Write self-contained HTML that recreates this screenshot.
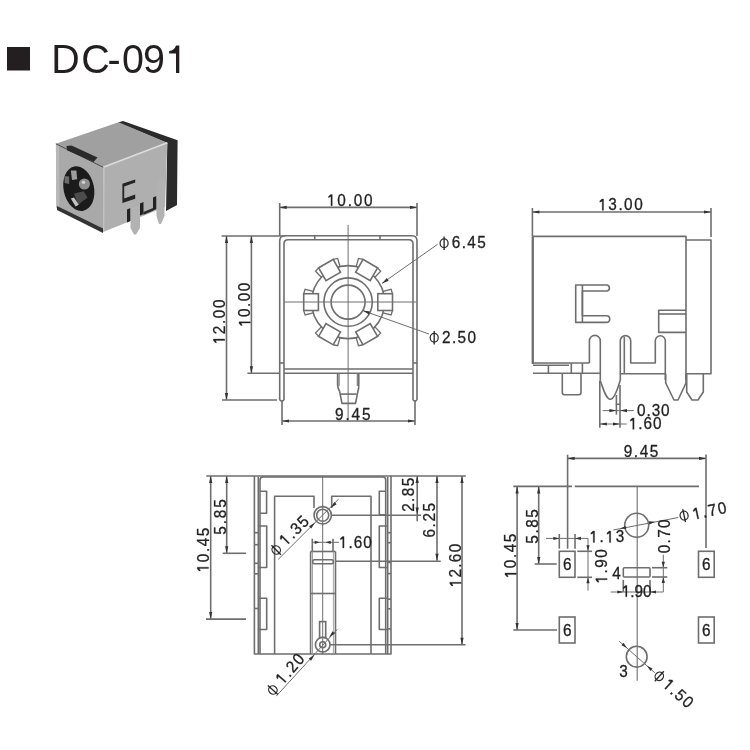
<!DOCTYPE html>
<html><head><meta charset="utf-8"><style>
html,body{margin:0;padding:0;background:#fff;}
svg{display:block;font-family:"Liberation Sans",sans-serif;will-change:transform;}
</style></head><body>
<svg width="750" height="750" viewBox="0 0 750 750">
<rect width="750" height="750" fill="#fff"/>
<rect x="7" y="47" width="23" height="23.5" fill="#231f20"/>
<text transform="translate(51.2,73.2) scale(0.95,1)" x="0" y="0" font-size="41.5" fill="#231f20">D</text>
<text transform="translate(81.3,73.2) scale(0.95,1)" x="0" y="0" font-size="41.5" fill="#231f20">C</text>
<text transform="translate(107.5,73.2) scale(0.95,1)" x="0" y="0" font-size="41.5" fill="#231f20">-</text>
<text transform="translate(122,73.2) scale(0.95,1)" x="0" y="0" font-size="41.5" fill="#231f20">0</text>
<text transform="translate(142.9,73.2) scale(0.95,1)" x="0" y="0" font-size="41.5" fill="#231f20">9</text>
<path d="M176,45.6 L179.3,45.6 L179.3,72.9 L176,72.9 L176,53.4 L169.2,53.4 L169.2,51 Q174.5,50.6 176,45.6 Z" fill="#231f20"/>
<g><polygon points="118,122.5 123,121 177.6,140.2 177,205 166,211 167.3,143" fill="#2b2b2b"/><polygon points="55.9,143.8 103.3,167.3 167.3,142.8 118.5,122.3" fill="#a0a0a0"/><polygon points="55.9,143.8 103.3,167.3 103,232 56.4,208" fill="#a9a9a9"/><polygon points="55.9,143.8 59,145.3 59.4,209.5 56.4,208" fill="#b8b8b8"/><polygon points="57,206 103,228.5 103,233 57,210" fill="#333"/><polygon points="103.3,167.3 167.3,142.8 165,207 128,222 103,232" fill="#afafaf"/><polyline points="103.3,167.3 167.3,142.8" stroke="#dcdcdc" stroke-width="1.6" fill="none"/><polyline points="55.9,143.8 103.3,167.3" stroke="#4a4a4a" stroke-width="1" fill="none"/><polyline points="104,167.5 103.7,231.5" stroke="#c4c4c4" stroke-width="1.2" fill="none"/><polygon points="66.5,146 71.5,145.4 97.5,157.6 93.5,162 67,150.2" fill="#2a2a2a"/><ellipse cx="78.8" cy="188.6" rx="15.2" ry="22.6" fill="#1b1b1b" transform="rotate(-12 78.8 188.6)"/><polygon points="70.8,170.4 76.4,170.4 77.2,179.2 72,180" fill="#9c9c9c"/><polygon points="64.4,176 69.2,176.5 69.2,184 64.6,183" fill="#6a6a6a"/><circle cx="84.4" cy="184" r="5.6" fill="#8e8e8e"/><circle cx="83.5" cy="182.2" r="1.8" fill="#cfcfcf"/><polygon points="74,193.6 83.6,191.2 87.6,197.6 78,204.8" fill="#4c4c4c"/><polygon points="70.8,198.4 74,197.6 78.8,204.8 75.6,206.4" fill="#c4c4c4"/><polygon points="122.4,183.7 135.2,179.4 135.2,182.4 124.2,186.4 124.2,198.6 135.2,194.6 135.2,198.8 122.4,203" fill="#242424"/><polygon points="127,209.5 130.5,208 130.5,221 127,222.5" fill="#222"/><polygon points="140,203.5 143.5,202 143.5,214 140,215.5" fill="#222"/><polygon points="153,197.5 156.5,196 156.5,209 153,210.5" fill="#222"/><polygon points="143.5,212 153,208 153,210.8 143.5,214.8" fill="#2a2a2a"/><polygon points="130.5,208 140,204 140,228 136,234.5 134,234.5 130.5,228" fill="#b2b2b2"/><polygon points="156.5,181 164.5,178 164.5,216 161,224 159,224 156.5,216" fill="#b2b2b2"/></g>
<line x1="279.70" y1="203.00" x2="279.70" y2="236.00" stroke="#6e6e6e" stroke-width="1.6"/>
<line x1="417.00" y1="203.00" x2="417.00" y2="236.00" stroke="#6e6e6e" stroke-width="1.6"/>
<line x1="279.70" y1="207.40" x2="417.00" y2="207.40" stroke="#6e6e6e" stroke-width="1.6"/>
<polygon points="279.70,207.40 286.70,205.80 286.70,209.00" fill="#333"/>
<polygon points="417.00,207.40 410.00,209.00 410.00,205.80" fill="#333"/>
<g transform="translate(349.80,205.74) rotate(0) scale(0.93,1)" font-size="16.5" fill="#222" stroke="#222" stroke-width="0.3"><path transform="translate(-24.44,0) scale(16.5)" d="M0.340,-0.688 L0.340,0 L0.252,0 L0.252,-0.555 L0.096,-0.49 L0.096,-0.575 L0.238,-0.688 Z" fill="#222" stroke="#222" stroke-width="0.0182"/><text x="-13.37" y="0">0</text><text x="-2.29" y="0">.</text><text x="4.19" y="0">0</text><text x="15.27" y="0">0</text></g>
<line x1="221.60" y1="236.00" x2="285.00" y2="236.00" stroke="#6e6e6e" stroke-width="1.6"/>
<line x1="226.50" y1="236.00" x2="226.50" y2="400.00" stroke="#6e6e6e" stroke-width="1.6"/>
<polygon points="226.50,236.00 228.10,243.00 224.90,243.00" fill="#333"/>
<polygon points="226.50,400.00 224.90,393.00 228.10,393.00" fill="#333"/>
<line x1="222.00" y1="400.00" x2="277.00" y2="400.00" stroke="#6e6e6e" stroke-width="1.6"/>
<line x1="251.40" y1="236.00" x2="251.40" y2="373.20" stroke="#6e6e6e" stroke-width="1.6"/>
<polygon points="251.40,236.00 253.00,243.00 249.80,243.00" fill="#333"/>
<polygon points="251.40,373.20 249.80,366.20 253.00,366.20" fill="#333"/>
<line x1="247.40" y1="373.20" x2="280.00" y2="373.20" stroke="#6e6e6e" stroke-width="1.6"/>
<g transform="translate(224.74,321.90) rotate(-90) scale(0.93,1)" font-size="16.5" fill="#222" stroke="#222" stroke-width="0.3"><path transform="translate(-24.04,0) scale(16.5)" d="M0.340,-0.688 L0.340,0 L0.252,0 L0.252,-0.555 L0.096,-0.49 L0.096,-0.575 L0.238,-0.688 Z" fill="#222" stroke="#222" stroke-width="0.0182"/><text x="-13.17" y="0">2</text><text x="-2.29" y="0">.</text><text x="3.99" y="0">0</text><text x="14.87" y="0">0</text></g>
<g transform="translate(250.34,304.80) rotate(-90) scale(0.93,1)" font-size="16.5" fill="#222" stroke="#222" stroke-width="0.3"><path transform="translate(-23.84,0) scale(16.5)" d="M0.340,-0.688 L0.340,0 L0.252,0 L0.252,-0.555 L0.096,-0.49 L0.096,-0.575 L0.238,-0.688 Z" fill="#222" stroke="#222" stroke-width="0.0182"/><text x="-13.07" y="0">0</text><text x="-2.29" y="0">.</text><text x="3.89" y="0">0</text><text x="14.67" y="0">0</text></g>
<path d="M279.7,400 L279.7,241 Q279.7,235.8 285,235.8 L412,235.8 Q417,235.8 417,241 L417,400" fill="none" stroke="#6e6e6e" stroke-width="1.6" stroke-linejoin="round"/>
<path d="M284,400 L284,244 Q284,239.7 288,239.7 L409,239.7 Q413,239.7 413,244 L413,400" fill="none" stroke="#6e6e6e" stroke-width="1.6" stroke-linejoin="round"/>
<path d="M279.7,400 Q281.85,402 284,400" fill="none" stroke="#6e6e6e" stroke-width="1.6" stroke-linejoin="round"/>
<path d="M413,400 Q415,402 417,400" fill="none" stroke="#6e6e6e" stroke-width="1.6" stroke-linejoin="round"/>
<line x1="314.70" y1="236.00" x2="314.70" y2="240.00" stroke="#6e6e6e" stroke-width="1.6"/>
<line x1="380.00" y1="236.00" x2="380.00" y2="240.00" stroke="#6e6e6e" stroke-width="1.6"/>
<line x1="279.70" y1="363.00" x2="284.00" y2="363.00" stroke="#6e6e6e" stroke-width="1.6"/>
<line x1="413.00" y1="363.00" x2="417.00" y2="363.00" stroke="#6e6e6e" stroke-width="1.6"/>
<line x1="284.00" y1="369.00" x2="413.00" y2="369.00" stroke="#6e6e6e" stroke-width="1.6"/>
<line x1="284.00" y1="373.30" x2="413.00" y2="373.30" stroke="#6e6e6e" stroke-width="1.6"/>
<circle cx="348.10" cy="302.10" r="17.00" fill="none" stroke="#6e6e6e" stroke-width="1.6"/>
<circle cx="348.10" cy="302.10" r="24.20" fill="none" stroke="#6e6e6e" stroke-width="1.6"/>
<circle cx="348.10" cy="302.10" r="36.50" fill="none" stroke="#6e6e6e" stroke-width="1.6"/>
<g transform="rotate(0 348.1 302.1)"><rect x="377.80" y="293.70" width="14.7" height="16.8" fill="#fff" stroke="#6e6e6e" stroke-width="1.6"/><polyline points="382.97,291.30 391.10,289.30 392.50,293.70" fill="none" stroke="#6e6e6e" stroke-width="1.3"/><polyline points="382.97,312.90 391.10,314.90 392.50,310.50" fill="none" stroke="#6e6e6e" stroke-width="1.3"/></g>
<g transform="rotate(-60 348.1 302.1)"><rect x="377.80" y="293.70" width="14.7" height="16.8" fill="#fff" stroke="#6e6e6e" stroke-width="1.6"/><polyline points="382.97,291.30 391.10,289.30 392.50,293.70" fill="none" stroke="#6e6e6e" stroke-width="1.3"/><polyline points="382.97,312.90 391.10,314.90 392.50,310.50" fill="none" stroke="#6e6e6e" stroke-width="1.3"/></g>
<g transform="rotate(-120 348.1 302.1)"><rect x="377.80" y="293.70" width="14.7" height="16.8" fill="#fff" stroke="#6e6e6e" stroke-width="1.6"/><polyline points="382.97,291.30 391.10,289.30 392.50,293.70" fill="none" stroke="#6e6e6e" stroke-width="1.3"/><polyline points="382.97,312.90 391.10,314.90 392.50,310.50" fill="none" stroke="#6e6e6e" stroke-width="1.3"/></g>
<g transform="rotate(-180 348.1 302.1)"><rect x="377.80" y="293.70" width="14.7" height="16.8" fill="#fff" stroke="#6e6e6e" stroke-width="1.6"/><polyline points="382.97,291.30 391.10,289.30 392.50,293.70" fill="none" stroke="#6e6e6e" stroke-width="1.3"/><polyline points="382.97,312.90 391.10,314.90 392.50,310.50" fill="none" stroke="#6e6e6e" stroke-width="1.3"/></g>
<g transform="rotate(-240 348.1 302.1)"><rect x="377.80" y="293.70" width="14.7" height="16.8" fill="#fff" stroke="#6e6e6e" stroke-width="1.6"/><polyline points="382.97,291.30 391.10,289.30 392.50,293.70" fill="none" stroke="#6e6e6e" stroke-width="1.3"/><polyline points="382.97,312.90 391.10,314.90 392.50,310.50" fill="none" stroke="#6e6e6e" stroke-width="1.3"/></g>
<g transform="rotate(-300 348.1 302.1)"><rect x="377.80" y="293.70" width="14.7" height="16.8" fill="#fff" stroke="#6e6e6e" stroke-width="1.6"/><polyline points="382.97,291.30 391.10,289.30 392.50,293.70" fill="none" stroke="#6e6e6e" stroke-width="1.3"/><polyline points="382.97,312.90 391.10,314.90 392.50,310.50" fill="none" stroke="#6e6e6e" stroke-width="1.3"/></g>
<line x1="348.10" y1="225.00" x2="348.10" y2="418.70" stroke="#6e6e6e" stroke-width="1.0"/>
<line x1="284.00" y1="302.00" x2="416.00" y2="302.00" stroke="#6e6e6e" stroke-width="1.0"/>
<line x1="437.60" y1="244.30" x2="382.00" y2="283.40" stroke="#6e6e6e" stroke-width="1.0"/>
<polygon points="382.00,283.40 386.81,278.06 388.65,280.68" fill="#333"/>
<line x1="362.80" y1="310.60" x2="429.00" y2="334.00" stroke="#6e6e6e" stroke-width="1.0"/>
<polygon points="362.80,310.60 369.93,311.42 368.87,314.44" fill="#333"/>
<g transform="translate(444.10,243.20) rotate(0)"><ellipse cx="0" cy="0" rx="4.0" ry="4.4" fill="none" stroke="#2a2a2a" stroke-width="1.25"/><line x1="0" y1="-6.70" x2="0" y2="6.70" stroke="#2a2a2a" stroke-width="1.35"/></g>
<g transform="translate(468.80,247.64) rotate(0) scale(0.93,1)" font-size="16.5" fill="#222" stroke="#222" stroke-width="0.3"><text x="-18.30" y="0">6</text><text x="-7.63" y="0">.</text><text x="-1.54" y="0">4</text><text x="9.13" y="0">5</text></g>
<g transform="translate(434.20,337.80) rotate(0)"><ellipse cx="0" cy="0" rx="4.0" ry="4.4" fill="none" stroke="#2a2a2a" stroke-width="1.25"/><line x1="0" y1="-6.70" x2="0" y2="6.70" stroke="#2a2a2a" stroke-width="1.35"/></g>
<g transform="translate(459.00,343.44) rotate(0) scale(0.93,1)" font-size="16.5" fill="#222" stroke="#222" stroke-width="0.3"><text x="-18.23" y="0">2</text><text x="-7.61" y="0">.</text><text x="-1.57" y="0">5</text><text x="9.06" y="0">0</text></g>
<path d="M337.6,373.3 L337.6,384.8 Q338,389 339.6,391.4 L342,403.4 L355.5,403.4 L357.9,391.4 Q358.8,389 358.8,384.8 L358.8,373.3" fill="none" stroke="#6e6e6e" stroke-width="1.6" stroke-linejoin="round"/>
<line x1="339.10" y1="373.30" x2="339.10" y2="386.00" stroke="#6e6e6e" stroke-width="1.1"/>
<line x1="357.30" y1="373.30" x2="357.30" y2="386.00" stroke="#6e6e6e" stroke-width="1.1"/>
<line x1="340.80" y1="394.10" x2="356.60" y2="394.10" stroke="#6e6e6e" stroke-width="1.6"/>
<line x1="282.00" y1="400.70" x2="282.00" y2="425.00" stroke="#6e6e6e" stroke-width="1.6"/>
<line x1="415.00" y1="400.00" x2="415.00" y2="425.00" stroke="#6e6e6e" stroke-width="1.6"/>
<line x1="282.00" y1="421.00" x2="415.00" y2="421.00" stroke="#6e6e6e" stroke-width="1.6"/>
<polygon points="282.00,421.00 289.00,419.40 289.00,422.60" fill="#333"/>
<polygon points="415.00,421.00 408.00,422.60 408.00,419.40" fill="#333"/>
<g transform="translate(352.80,419.64) rotate(0) scale(0.93,1)" font-size="16.5" fill="#222" stroke="#222" stroke-width="0.3"><text x="-19.05" y="0">9</text><text x="-7.88" y="0">.</text><text x="-1.29" y="0">4</text><text x="9.88" y="0">5</text></g>
<line x1="532.40" y1="208.00" x2="532.40" y2="236.00" stroke="#6e6e6e" stroke-width="1.6"/>
<line x1="711.00" y1="208.00" x2="711.00" y2="237.00" stroke="#6e6e6e" stroke-width="1.6"/>
<line x1="532.40" y1="212.00" x2="711.00" y2="212.00" stroke="#6e6e6e" stroke-width="1.6"/>
<polygon points="532.40,212.00 539.40,210.40 539.40,213.60" fill="#333"/>
<polygon points="711.00,212.00 704.00,213.60 704.00,210.40" fill="#333"/>
<g transform="translate(620.50,210.34) rotate(0) scale(0.93,1)" font-size="16.5" fill="#222" stroke="#222" stroke-width="0.3"><path transform="translate(-23.84,0) scale(16.5)" d="M0.340,-0.688 L0.340,0 L0.252,0 L0.252,-0.555 L0.096,-0.49 L0.096,-0.575 L0.238,-0.688 Z" fill="#222" stroke="#222" stroke-width="0.0182"/><text x="-13.07" y="0">3</text><text x="-2.29" y="0">.</text><text x="3.89" y="0">0</text><text x="14.67" y="0">0</text></g>
<path d="M533,364 L533,236.4 L686,236.4 L686,380" fill="none" stroke="#6e6e6e" stroke-width="1.6" stroke-linejoin="round"/>
<line x1="532.60" y1="236.40" x2="532.60" y2="364.00" stroke="#6e6e6e" stroke-width="2.0"/>
<path d="M686,240 L711,240 L711,373.7 L686,373.7" fill="none" stroke="#6e6e6e" stroke-width="1.6" stroke-linejoin="round"/>
<path d="M606.4,285 L575.7,285 L575.7,322.4 L606.4,322.4 A3.35,3.35 0 0 0 606.4,315.7 L582.4,315.7 L582.4,291 L606.4,291 A3,3 0 0 0 606.4,285" fill="none" stroke="#6e6e6e" stroke-width="1.6" stroke-linejoin="round"/>
<line x1="582.40" y1="285.00" x2="582.40" y2="322.40" stroke="#6e6e6e" stroke-width="1.6"/>
<path d="M686,310.3 L658.7,310.3 L658.7,332.4 L686,332.4" fill="none" stroke="#6e6e6e" stroke-width="1.6" stroke-linejoin="round"/>
<line x1="658.70" y1="314.00" x2="686.00" y2="314.00" stroke="#6e6e6e" stroke-width="1.6"/>
<path d="M589.4,363 L589.4,340.8 A5.45,5.45 0 0 1 600.3,340.8 L600.3,380.7" fill="none" stroke="#6e6e6e" stroke-width="1.6" stroke-linejoin="round"/>
<path d="M620.3,380 L620.3,340.8 A5.2,5.2 0 0 1 630.7,340.8 L630.7,363 L655.3,363 L655.3,340.8 A5,5 0 0 1 665.3,340.8 L665.3,380" fill="none" stroke="#6e6e6e" stroke-width="1.6" stroke-linejoin="round"/>
<line x1="624.30" y1="337.00" x2="624.30" y2="373.70" stroke="#6e6e6e" stroke-width="1.6"/>
<line x1="533.00" y1="363.00" x2="589.40" y2="363.00" stroke="#6e6e6e" stroke-width="1.6"/>
<line x1="533.00" y1="365.30" x2="569.00" y2="365.30" stroke="#6e6e6e" stroke-width="1.6"/>
<line x1="533.00" y1="373.30" x2="600.30" y2="373.30" stroke="#6e6e6e" stroke-width="1.6"/>
<line x1="620.30" y1="373.70" x2="665.30" y2="373.70" stroke="#6e6e6e" stroke-width="1.6"/>
<line x1="548.40" y1="365.30" x2="548.40" y2="373.30" stroke="#6e6e6e" stroke-width="1.6"/>
<line x1="571.30" y1="363.00" x2="571.30" y2="373.30" stroke="#6e6e6e" stroke-width="1.6"/>
<line x1="582.40" y1="363.00" x2="582.40" y2="373.30" stroke="#6e6e6e" stroke-width="1.6"/>
<path d="M562.3,373.3 L562.3,392.5 Q562.3,394.7 564.5,394.7 L578.8,394.7 Q581,394.7 581,392.5 L581,373.3" fill="none" stroke="#6e6e6e" stroke-width="1.6" stroke-linejoin="round"/>
<path d="M600.3,380.7 C603,388 606,399.3 610.3,399.3 C614,399.3 618,388 620.3,380" fill="none" stroke="#6e6e6e" stroke-width="1.6" stroke-linejoin="round"/>
<path d="M616.4,395 L616.4,404.2 L620,404.2 L620,385" fill="none" stroke="#6e6e6e" stroke-width="1.6" stroke-linejoin="round"/>
<path d="M665.7,373.7 L665.7,383 L674,400 L678,400 L686,383 L686,373.7" fill="none" stroke="#6e6e6e" stroke-width="1.6" stroke-linejoin="round"/>
<path d="M686.7,373.7 L686.7,392 L692,400 L698,400 L703.3,392 L703.3,373.7" fill="none" stroke="#6e6e6e" stroke-width="1.6" stroke-linejoin="round"/>
<line x1="599.80" y1="380.70" x2="599.80" y2="427.80" stroke="#6e6e6e" stroke-width="1.6"/>
<line x1="620.00" y1="404.00" x2="620.00" y2="427.80" stroke="#6e6e6e" stroke-width="1.6"/>
<line x1="616.40" y1="404.00" x2="616.40" y2="414.60" stroke="#6e6e6e" stroke-width="1.6"/>
<line x1="602.60" y1="410.60" x2="633.80" y2="410.60" stroke="#6e6e6e" stroke-width="1.0"/>
<polygon points="616.40,410.60 609.40,412.20 609.40,409.00" fill="#333"/>
<polygon points="620.00,410.60 627.00,409.00 627.00,412.20" fill="#333"/>
<line x1="599.80" y1="424.00" x2="626.60" y2="424.00" stroke="#6e6e6e" stroke-width="1.0"/>
<polygon points="599.80,424.00 606.80,422.40 606.80,425.60" fill="#333"/>
<polygon points="620.00,424.00 613.00,425.60 613.00,422.40" fill="#333"/>
<g transform="translate(653.30,416.04) rotate(0) scale(0.93,1)" font-size="16.5" fill="#222" stroke="#222" stroke-width="0.3"><text x="-17.55" y="0">0</text><text x="-7.38" y="0">.</text><text x="-1.79" y="0">3</text><text x="8.38" y="0">0</text></g>
<g transform="translate(645.20,429.34) rotate(0) scale(0.93,1)" font-size="16.5" fill="#222" stroke="#222" stroke-width="0.3"><path transform="translate(-17.55,0) scale(16.5)" d="M0.340,-0.688 L0.340,0 L0.252,0 L0.252,-0.555 L0.096,-0.49 L0.096,-0.575 L0.238,-0.688 Z" fill="#222" stroke="#222" stroke-width="0.0182"/><text x="-7.38" y="0">.</text><text x="-1.79" y="0">6</text><text x="8.38" y="0">0</text></g>
<line x1="206.30" y1="476.00" x2="465.80" y2="476.00" stroke="#6e6e6e" stroke-width="1.6"/>
<line x1="210.70" y1="476.00" x2="210.70" y2="619.10" stroke="#6e6e6e" stroke-width="1.6"/>
<polygon points="210.70,476.00 212.30,483.00 209.10,483.00" fill="#333"/>
<polygon points="210.70,619.10 209.10,612.10 212.30,612.10" fill="#333"/>
<line x1="206.00" y1="619.10" x2="246.00" y2="619.10" stroke="#6e6e6e" stroke-width="1.6"/>
<line x1="226.70" y1="476.00" x2="226.70" y2="553.30" stroke="#6e6e6e" stroke-width="1.6"/>
<polygon points="226.70,476.00 228.30,483.00 225.10,483.00" fill="#333"/>
<polygon points="226.70,553.30 225.10,546.30 228.30,546.30" fill="#333"/>
<line x1="222.70" y1="553.30" x2="246.00" y2="553.30" stroke="#6e6e6e" stroke-width="1.6"/>
<g transform="translate(208.54,550.00) rotate(-90) scale(0.93,1)" font-size="16.5" fill="#222" stroke="#222" stroke-width="0.3"><path transform="translate(-24.04,0) scale(16.5)" d="M0.340,-0.688 L0.340,0 L0.252,0 L0.252,-0.555 L0.096,-0.49 L0.096,-0.575 L0.238,-0.688 Z" fill="#222" stroke="#222" stroke-width="0.0182"/><text x="-13.17" y="0">0</text><text x="-2.29" y="0">.</text><text x="3.99" y="0">4</text><text x="14.87" y="0">5</text></g>
<g transform="translate(225.94,517.00) rotate(-90) scale(0.93,1)" font-size="16.5" fill="#222" stroke="#222" stroke-width="0.3"><text x="-19.20" y="0">5</text><text x="-7.93" y="0">.</text><text x="-1.24" y="0">8</text><text x="10.03" y="0">5</text></g>
<path d="M254.4,476 L254.4,654 L391,654 L391,476" fill="none" stroke="#6e6e6e" stroke-width="1.6" stroke-linejoin="round"/>
<line x1="258.30" y1="477.00" x2="258.30" y2="654.00" stroke="#6e6e6e" stroke-width="1.6"/>
<line x1="387.70" y1="477.00" x2="387.70" y2="654.00" stroke="#6e6e6e" stroke-width="1.6"/>
<path d="M260,654 L260,480 Q260,477 263,477 L383,477 Q385.7,477 385.7,480 L385.7,654" fill="none" stroke="#6e6e6e" stroke-width="1.6" stroke-linejoin="round"/>
<path d="M274.6,654 L274.6,496.3 L314,496.3 L314,508" fill="none" stroke="#6e6e6e" stroke-width="1.6" stroke-linejoin="round"/>
<path d="M371,654 L371,496.3 L331.7,496.3 L331.7,508" fill="none" stroke="#6e6e6e" stroke-width="1.6" stroke-linejoin="round"/>
<line x1="310.60" y1="551.50" x2="310.60" y2="654.00" stroke="#6e6e6e" stroke-width="1.6"/>
<line x1="335.50" y1="551.50" x2="335.50" y2="654.00" stroke="#6e6e6e" stroke-width="1.6"/>
<line x1="310.60" y1="551.50" x2="335.50" y2="551.50" stroke="#6e6e6e" stroke-width="1.6"/>
<line x1="312.50" y1="551.50" x2="312.50" y2="654.00" stroke="#9a9a9a" stroke-width="0.9"/>
<line x1="333.40" y1="551.50" x2="333.40" y2="654.00" stroke="#9a9a9a" stroke-width="0.9"/>
<rect x="312.7" y="559.7" width="20.6" height="4" rx="1.5" fill="none" stroke="#6e6e6e" stroke-width="1.6"/>
<line x1="310.60" y1="593.50" x2="335.50" y2="593.50" stroke="#6e6e6e" stroke-width="1.6"/>
<path d="M260,491.3 L266.6,491.3 L266.6,513.3 L260,513.3" fill="none" stroke="#6e6e6e" stroke-width="1.6" stroke-linejoin="round"/>
<path d="M258.3,526 L266.7,526 L266.7,567.5 L258.3,567.5" fill="none" stroke="#6e6e6e" stroke-width="1.6" stroke-linejoin="round"/>
<path d="M258.3,598.3 L266.7,598.3 L266.7,629.5 L258.3,629.5" fill="none" stroke="#6e6e6e" stroke-width="1.6" stroke-linejoin="round"/>
<line x1="254.40" y1="532.70" x2="258.30" y2="532.70" stroke="#6e6e6e" stroke-width="1.6"/>
<line x1="254.40" y1="544.70" x2="258.30" y2="544.70" stroke="#6e6e6e" stroke-width="1.6"/>
<line x1="254.40" y1="563.30" x2="258.30" y2="563.30" stroke="#6e6e6e" stroke-width="1.6"/>
<line x1="254.40" y1="573.80" x2="258.30" y2="573.80" stroke="#6e6e6e" stroke-width="1.6"/>
<line x1="254.40" y1="608.50" x2="258.30" y2="608.50" stroke="#6e6e6e" stroke-width="1.6"/>
<path d="M385.7,491.3 L379.3,491.3 L379.3,514.7 L385.7,514.7" fill="none" stroke="#6e6e6e" stroke-width="1.6" stroke-linejoin="round"/>
<path d="M387.7,526 L379.3,526 L379.3,567.5 L387.7,567.5" fill="none" stroke="#6e6e6e" stroke-width="1.6" stroke-linejoin="round"/>
<path d="M387.7,598.3 L379.3,598.3 L379.3,629.5 L387.7,629.5" fill="none" stroke="#6e6e6e" stroke-width="1.6" stroke-linejoin="round"/>
<line x1="387.70" y1="532.70" x2="391.00" y2="532.70" stroke="#6e6e6e" stroke-width="1.6"/>
<line x1="387.70" y1="542.70" x2="391.00" y2="542.70" stroke="#6e6e6e" stroke-width="1.6"/>
<line x1="387.70" y1="562.40" x2="391.00" y2="562.40" stroke="#6e6e6e" stroke-width="1.6"/>
<line x1="387.70" y1="573.60" x2="391.00" y2="573.60" stroke="#6e6e6e" stroke-width="1.6"/>
<line x1="387.70" y1="599.20" x2="391.00" y2="599.20" stroke="#6e6e6e" stroke-width="1.6"/>
<line x1="387.70" y1="608.80" x2="391.00" y2="608.80" stroke="#6e6e6e" stroke-width="1.6"/>
<line x1="387.70" y1="628.80" x2="391.00" y2="628.80" stroke="#6e6e6e" stroke-width="1.6"/>
<line x1="322.70" y1="476.00" x2="322.70" y2="654.00" stroke="#6e6e6e" stroke-width="1.0"/>
<circle cx="322.70" cy="515.30" r="8.70" fill="#fff" stroke="#6e6e6e" stroke-width="1.6"/>
<circle cx="322.70" cy="515.30" r="6.00" fill="none" stroke="#6e6e6e" stroke-width="1.6"/>
<line x1="322.70" y1="505.00" x2="322.70" y2="526.00" stroke="#6e6e6e" stroke-width="1.0"/>
<line x1="331.40" y1="515.30" x2="421.00" y2="515.30" stroke="#6e6e6e" stroke-width="1.6"/>
<rect x="319.6" y="621.6" width="6.1" height="16" fill="#fff" stroke="#6e6e6e" stroke-width="1.6"/>
<circle cx="322.70" cy="644.70" r="7.30" fill="#fff" stroke="#6e6e6e" stroke-width="1.6"/>
<circle cx="322.70" cy="644.70" r="3.00" fill="none" stroke="#6e6e6e" stroke-width="1.6"/>
<line x1="322.70" y1="621.00" x2="322.70" y2="654.00" stroke="#6e6e6e" stroke-width="1.0"/>
<line x1="330.00" y1="644.70" x2="465.60" y2="644.70" stroke="#6e6e6e" stroke-width="1.6"/>
<line x1="312.30" y1="538.70" x2="312.30" y2="551.30" stroke="#6e6e6e" stroke-width="1.6"/>
<line x1="333.00" y1="538.70" x2="333.00" y2="551.30" stroke="#6e6e6e" stroke-width="1.6"/>
<line x1="312.30" y1="542.30" x2="339.00" y2="542.30" stroke="#6e6e6e" stroke-width="1.0"/>
<polygon points="319.70,542.30 314.70,543.90 314.70,540.70" fill="#333"/>
<polygon points="325.70,542.30 330.70,540.70 330.70,543.90" fill="#333"/>
<g transform="translate(355.30,547.94) rotate(0) scale(0.93,1)" font-size="16.5" fill="#222" stroke="#222" stroke-width="0.3"><path transform="translate(-17.70,0) scale(16.5)" d="M0.340,-0.688 L0.340,0 L0.252,0 L0.252,-0.555 L0.096,-0.49 L0.096,-0.575 L0.238,-0.688 Z" fill="#222" stroke="#222" stroke-width="0.0182"/><text x="-7.43" y="0">.</text><text x="-1.74" y="0">6</text><text x="8.53" y="0">0</text></g>
<line x1="335.00" y1="561.20" x2="440.80" y2="561.20" stroke="#6e6e6e" stroke-width="1.6"/>
<line x1="417.20" y1="476.00" x2="417.20" y2="521.20" stroke="#6e6e6e" stroke-width="1.6"/>
<polygon points="417.20,476.00 418.80,483.00 415.60,483.00" fill="#333"/>
<polygon points="417.20,514.60 415.60,507.60 418.80,507.60" fill="#333"/>
<g transform="translate(414.44,494.80) rotate(-90) scale(0.93,1)" font-size="16.5" fill="#222" stroke="#222" stroke-width="0.3"><text x="-18.30" y="0">2</text><text x="-7.63" y="0">.</text><text x="-1.54" y="0">8</text><text x="9.13" y="0">5</text></g>
<line x1="437.00" y1="476.00" x2="437.00" y2="560.80" stroke="#6e6e6e" stroke-width="1.6"/>
<polygon points="437.00,476.00 438.60,483.00 435.40,483.00" fill="#333"/>
<polygon points="437.00,560.80 435.40,553.80 438.60,553.80" fill="#333"/>
<g transform="translate(435.44,520.30) rotate(-90) scale(0.93,1)" font-size="16.5" fill="#222" stroke="#222" stroke-width="0.3"><text x="-18.60" y="0">6</text><text x="-7.73" y="0">.</text><text x="-1.44" y="0">2</text><text x="9.43" y="0">5</text></g>
<line x1="462.00" y1="476.00" x2="462.00" y2="644.80" stroke="#6e6e6e" stroke-width="1.6"/>
<polygon points="462.00,476.00 463.60,483.00 460.40,483.00" fill="#333"/>
<polygon points="462.00,644.80 460.40,637.80 463.60,637.80" fill="#333"/>
<g transform="translate(461.14,565.60) rotate(-90) scale(0.93,1)" font-size="16.5" fill="#222" stroke="#222" stroke-width="0.3"><path transform="translate(-23.44,0) scale(16.5)" d="M0.340,-0.688 L0.340,0 L0.252,0 L0.252,-0.555 L0.096,-0.49 L0.096,-0.575 L0.238,-0.688 Z" fill="#222" stroke="#222" stroke-width="0.0182"/><text x="-12.87" y="0">2</text><text x="-2.29" y="0">.</text><text x="3.69" y="0">6</text><text x="14.27" y="0">0</text></g>
<line x1="278.30" y1="559.30" x2="338.60" y2="499.10" stroke="#6e6e6e" stroke-width="1.0"/>
<polygon points="315.10,522.50 311.28,528.58 309.02,526.32" fill="#333"/>
<polygon points="330.60,508.10 334.42,502.02 336.68,504.28" fill="#333"/>
<g transform="translate(276.20,550.00) rotate(-45)"><ellipse cx="0" cy="0" rx="4.0" ry="4.4" fill="none" stroke="#2a2a2a" stroke-width="1.25"/><line x1="0" y1="-6.70" x2="0" y2="6.70" stroke="#2a2a2a" stroke-width="1.35"/></g>
<g transform="translate(298.00,534.50) rotate(-45) scale(0.93,1)" font-size="16.5" fill="#222" stroke="#222" stroke-width="0.3"><path transform="translate(-18.45,0) scale(16.5)" d="M0.340,-0.688 L0.340,0 L0.252,0 L0.252,-0.555 L0.096,-0.49 L0.096,-0.575 L0.238,-0.688 Z" fill="#222" stroke="#222" stroke-width="0.0182"/><text x="-7.68" y="0">.</text><text x="-1.49" y="0">3</text><text x="9.28" y="0">5</text></g>
<line x1="276.30" y1="696.10" x2="337.30" y2="629.30" stroke="#6e6e6e" stroke-width="1.0"/>
<polygon points="314.70,654.50 311.13,660.73 308.78,658.56" fill="#333"/>
<polygon points="329.00,637.50 332.54,631.25 334.90,633.41" fill="#333"/>
<g transform="translate(272.90,690.00) rotate(-49)"><ellipse cx="0" cy="0" rx="4.0" ry="4.4" fill="none" stroke="#2a2a2a" stroke-width="1.25"/><line x1="0" y1="-6.70" x2="0" y2="6.70" stroke="#2a2a2a" stroke-width="1.35"/></g>
<g transform="translate(294.08,672.50) rotate(-49) scale(0.93,1)" font-size="16.5" fill="#222" stroke="#222" stroke-width="0.3"><path transform="translate(-18.45,0) scale(16.5)" d="M0.340,-0.688 L0.340,0 L0.252,0 L0.252,-0.555 L0.096,-0.49 L0.096,-0.575 L0.238,-0.688 Z" fill="#222" stroke="#222" stroke-width="0.0182"/><text x="-7.68" y="0">.</text><text x="-1.49" y="0">2</text><text x="9.28" y="0">0</text></g>
<line x1="567.60" y1="454.70" x2="567.60" y2="548.70" stroke="#6e6e6e" stroke-width="1.6"/>
<line x1="706.00" y1="454.40" x2="706.00" y2="548.10" stroke="#6e6e6e" stroke-width="1.6"/>
<line x1="567.60" y1="458.40" x2="706.00" y2="458.40" stroke="#6e6e6e" stroke-width="1.6"/>
<polygon points="567.60,458.40 574.60,456.80 574.60,460.00" fill="#333"/>
<polygon points="706.00,458.40 699.00,460.00 699.00,456.80" fill="#333"/>
<g transform="translate(641.00,457.34) rotate(0) scale(0.93,1)" font-size="16.5" fill="#222" stroke="#222" stroke-width="0.3"><text x="-18.60" y="0">9</text><text x="-7.73" y="0">.</text><text x="-1.44" y="0">4</text><text x="9.43" y="0">5</text></g>
<line x1="513.30" y1="486.40" x2="572.00" y2="486.40" stroke="#6e6e6e" stroke-width="1.6"/>
<line x1="574.70" y1="486.40" x2="699.00" y2="486.40" stroke="#6e6e6e" stroke-width="1.6"/>
<line x1="517.10" y1="486.40" x2="517.10" y2="630.00" stroke="#6e6e6e" stroke-width="1.6"/>
<polygon points="517.10,486.40 518.70,493.40 515.50,493.40" fill="#333"/>
<polygon points="517.10,630.00 515.50,623.00 518.70,623.00" fill="#333"/>
<line x1="513.30" y1="630.00" x2="557.00" y2="630.00" stroke="#6e6e6e" stroke-width="1.6"/>
<line x1="538.70" y1="486.40" x2="538.70" y2="564.00" stroke="#6e6e6e" stroke-width="1.6"/>
<polygon points="538.70,486.40 540.30,493.40 537.10,493.40" fill="#333"/>
<polygon points="538.70,564.00 537.10,557.00 540.30,557.00" fill="#333"/>
<line x1="534.70" y1="564.00" x2="556.70" y2="564.00" stroke="#6e6e6e" stroke-width="1.6"/>
<g transform="translate(516.34,556.00) rotate(-90) scale(0.93,1)" font-size="16.5" fill="#222" stroke="#222" stroke-width="0.3"><path transform="translate(-23.94,0) scale(16.5)" d="M0.340,-0.688 L0.340,0 L0.252,0 L0.252,-0.555 L0.096,-0.49 L0.096,-0.575 L0.238,-0.688 Z" fill="#222" stroke="#222" stroke-width="0.0182"/><text x="-13.12" y="0">0</text><text x="-2.29" y="0">.</text><text x="3.94" y="0">4</text><text x="14.77" y="0">5</text></g>
<g transform="translate(538.34,526.40) rotate(-90) scale(0.93,1)" font-size="16.5" fill="#222" stroke="#222" stroke-width="0.3"><text x="-18.53" y="0">5</text><text x="-7.71" y="0">.</text><text x="-1.47" y="0">8</text><text x="9.36" y="0">5</text></g>
<rect x="559.3" y="551.3" width="15.7" height="26" fill="none" stroke="#6e6e6e" stroke-width="1.6"/>
<g transform="translate(567.15,570.24) rotate(0) scale(0.93,1)" font-size="16.5" fill="#222" stroke="#222" stroke-width="0.3"><text x="-4.59" y="0">6</text></g>
<rect x="698.5" y="551.3" width="15.7" height="26" fill="none" stroke="#6e6e6e" stroke-width="1.6"/>
<g transform="translate(706.35,570.24) rotate(0) scale(0.93,1)" font-size="16.5" fill="#222" stroke="#222" stroke-width="0.3"><text x="-4.59" y="0">6</text></g>
<rect x="559.3" y="617" width="15.7" height="26" fill="none" stroke="#6e6e6e" stroke-width="1.6"/>
<g transform="translate(567.15,635.94) rotate(0) scale(0.93,1)" font-size="16.5" fill="#222" stroke="#222" stroke-width="0.3"><text x="-4.59" y="0">6</text></g>
<rect x="698.5" y="617" width="15.7" height="26" fill="none" stroke="#6e6e6e" stroke-width="1.6"/>
<g transform="translate(706.35,635.94) rotate(0) scale(0.93,1)" font-size="16.5" fill="#222" stroke="#222" stroke-width="0.3"><text x="-4.59" y="0">6</text></g>
<line x1="637.20" y1="486.40" x2="637.20" y2="680.70" stroke="#6e6e6e" stroke-width="1.1"/>
<circle cx="636.70" cy="525.30" r="12.00" fill="none" stroke="#6e6e6e" stroke-width="1.6"/>
<line x1="613.30" y1="530.00" x2="678.30" y2="517.50" stroke="#6e6e6e" stroke-width="1.0"/>
<polygon points="620.00,528.60 625.60,525.91 626.19,529.05" fill="#333"/>
<polygon points="655.00,521.80 649.40,524.49 648.81,521.35" fill="#333"/>
<g transform="translate(684.10,515.60) rotate(-12)"><ellipse cx="0" cy="0" rx="4.0" ry="4.4" fill="none" stroke="#2a2a2a" stroke-width="1.25"/><line x1="0" y1="-6.70" x2="0" y2="6.70" stroke="#2a2a2a" stroke-width="1.35"/></g>
<g transform="translate(710.53,516.31) rotate(-12) scale(0.93,1)" font-size="16.5" fill="#222" stroke="#222" stroke-width="0.3"><path transform="translate(-18.45,0) scale(16.5)" d="M0.340,-0.688 L0.340,0 L0.252,0 L0.252,-0.555 L0.096,-0.49 L0.096,-0.575 L0.238,-0.688 Z" fill="#222" stroke="#222" stroke-width="0.0182"/><text x="-7.68" y="0">.</text><text x="-1.49" y="0">7</text><text x="9.28" y="0">0</text></g>
<line x1="559.30" y1="534.00" x2="559.30" y2="548.70" stroke="#6e6e6e" stroke-width="1.6"/>
<line x1="575.00" y1="534.00" x2="575.00" y2="548.70" stroke="#6e6e6e" stroke-width="1.6"/>
<line x1="546.00" y1="538.40" x2="588.00" y2="538.40" stroke="#6e6e6e" stroke-width="1.0"/>
<polygon points="559.30,538.40 553.30,540.00 553.30,536.80" fill="#333"/>
<polygon points="575.00,538.40 581.00,536.80 581.00,540.00" fill="#333"/>
<g transform="translate(606.80,542.44) rotate(0) scale(0.93,1)" font-size="16.5" fill="#222" stroke="#222" stroke-width="0.3"><path transform="translate(-18.75,0) scale(16.5)" d="M0.340,-0.688 L0.340,0 L0.252,0 L0.252,-0.555 L0.096,-0.49 L0.096,-0.575 L0.238,-0.688 Z" fill="#222" stroke="#222" stroke-width="0.0182"/><text x="-7.78" y="0">.</text><path transform="translate(-1.39,0) scale(16.5)" d="M0.340,-0.688 L0.340,0 L0.252,0 L0.252,-0.555 L0.096,-0.49 L0.096,-0.575 L0.238,-0.688 Z" fill="#222" stroke="#222" stroke-width="0.0182"/><text x="9.58" y="0">3</text></g>
<line x1="588.00" y1="538.40" x2="588.00" y2="590.70" stroke="#6e6e6e" stroke-width="1.0"/>
<polygon points="588.00,551.30 586.40,545.30 589.60,545.30" fill="#333"/>
<polygon points="588.00,577.30 589.60,583.30 586.40,583.30" fill="#333"/>
<line x1="577.30" y1="551.30" x2="592.00" y2="551.30" stroke="#6e6e6e" stroke-width="1.6"/>
<line x1="577.30" y1="577.30" x2="592.00" y2="577.30" stroke="#6e6e6e" stroke-width="1.6"/>
<g transform="translate(607.14,566.40) rotate(-90) scale(0.93,1)" font-size="16.5" fill="#222" stroke="#222" stroke-width="0.3"><path transform="translate(-18.53,0) scale(16.5)" d="M0.340,-0.688 L0.340,0 L0.252,0 L0.252,-0.555 L0.096,-0.49 L0.096,-0.575 L0.238,-0.688 Z" fill="#222" stroke="#222" stroke-width="0.0182"/><text x="-7.71" y="0">.</text><text x="-1.47" y="0">9</text><text x="9.36" y="0">0</text></g>
<rect x="623.3" y="567.7" width="26.7" height="9.3" rx="1" fill="none" stroke="#6e6e6e" stroke-width="1.6"/>
<g transform="translate(616.50,578.94) rotate(0) scale(0.93,1)" font-size="16.5" fill="#222" stroke="#222" stroke-width="0.3"><text x="-4.59" y="0">4</text></g>
<line x1="623.30" y1="580.00" x2="623.30" y2="592.00" stroke="#6e6e6e" stroke-width="1.6"/>
<line x1="650.00" y1="580.00" x2="650.00" y2="592.00" stroke="#6e6e6e" stroke-width="1.6"/>
<line x1="610.70" y1="592.00" x2="663.30" y2="592.00" stroke="#6e6e6e" stroke-width="1.0"/>
<polygon points="623.30,592.00 617.30,593.60 617.30,590.40" fill="#333"/>
<polygon points="650.00,592.00 656.00,590.40 656.00,593.60" fill="#333"/>
<g transform="translate(636.70,596.74) rotate(0) scale(0.93,1)" font-size="16.5" fill="#222" stroke="#222" stroke-width="0.3"><path transform="translate(-16.05,0) scale(16.5)" d="M0.340,-0.688 L0.340,0 L0.252,0 L0.252,-0.555 L0.096,-0.49 L0.096,-0.575 L0.238,-0.688 Z" fill="#222" stroke="#222" stroke-width="0.0182"/><text x="-6.88" y="0">.</text><text x="-2.29" y="0">9</text><text x="6.88" y="0">0</text></g>
<line x1="663.30" y1="554.70" x2="663.30" y2="592.00" stroke="#6e6e6e" stroke-width="1.0"/>
<polygon points="663.30,567.70 661.70,561.70 664.90,561.70" fill="#333"/>
<polygon points="663.30,577.00 664.90,583.00 661.70,583.00" fill="#333"/>
<line x1="652.00" y1="567.70" x2="667.30" y2="567.70" stroke="#6e6e6e" stroke-width="1.6"/>
<line x1="652.00" y1="577.00" x2="667.30" y2="577.00" stroke="#6e6e6e" stroke-width="1.6"/>
<g transform="translate(670.04,536.40) rotate(-90) scale(0.93,1)" font-size="16.5" fill="#222" stroke="#222" stroke-width="0.3"><text x="-18.15" y="0">0</text><text x="-7.58" y="0">.</text><text x="-1.59" y="0">7</text><text x="8.98" y="0">0</text></g>
<circle cx="636.70" cy="656.70" r="10.40" fill="none" stroke="#6e6e6e" stroke-width="1.6"/>
<line x1="619.30" y1="641.30" x2="654.70" y2="672.70" stroke="#6e6e6e" stroke-width="1.0"/>
<polygon points="627.00,648.00 621.45,645.22 623.57,642.82" fill="#333"/>
<polygon points="647.00,665.80 652.55,668.58 650.43,670.98" fill="#333"/>
<g transform="translate(623.60,677.24) rotate(0) scale(0.93,1)" font-size="16.5" fill="#222" stroke="#222" stroke-width="0.3"><text x="-4.59" y="0">3</text></g>
<g transform="translate(659.30,676.30) rotate(42)"><ellipse cx="0" cy="0" rx="4.0" ry="4.4" fill="none" stroke="#2a2a2a" stroke-width="1.25"/><line x1="0" y1="-6.70" x2="0" y2="6.70" stroke="#2a2a2a" stroke-width="1.35"/></g>
<g transform="translate(674.53,697.41) rotate(42) scale(0.93,1)" font-size="16.5" fill="#222" stroke="#222" stroke-width="0.3"><path transform="translate(-18.45,0) scale(16.5)" d="M0.340,-0.688 L0.340,0 L0.252,0 L0.252,-0.555 L0.096,-0.49 L0.096,-0.575 L0.238,-0.688 Z" fill="#222" stroke="#222" stroke-width="0.0182"/><text x="-7.68" y="0">.</text><text x="-1.49" y="0">5</text><text x="9.28" y="0">0</text></g>
</svg></body></html>
